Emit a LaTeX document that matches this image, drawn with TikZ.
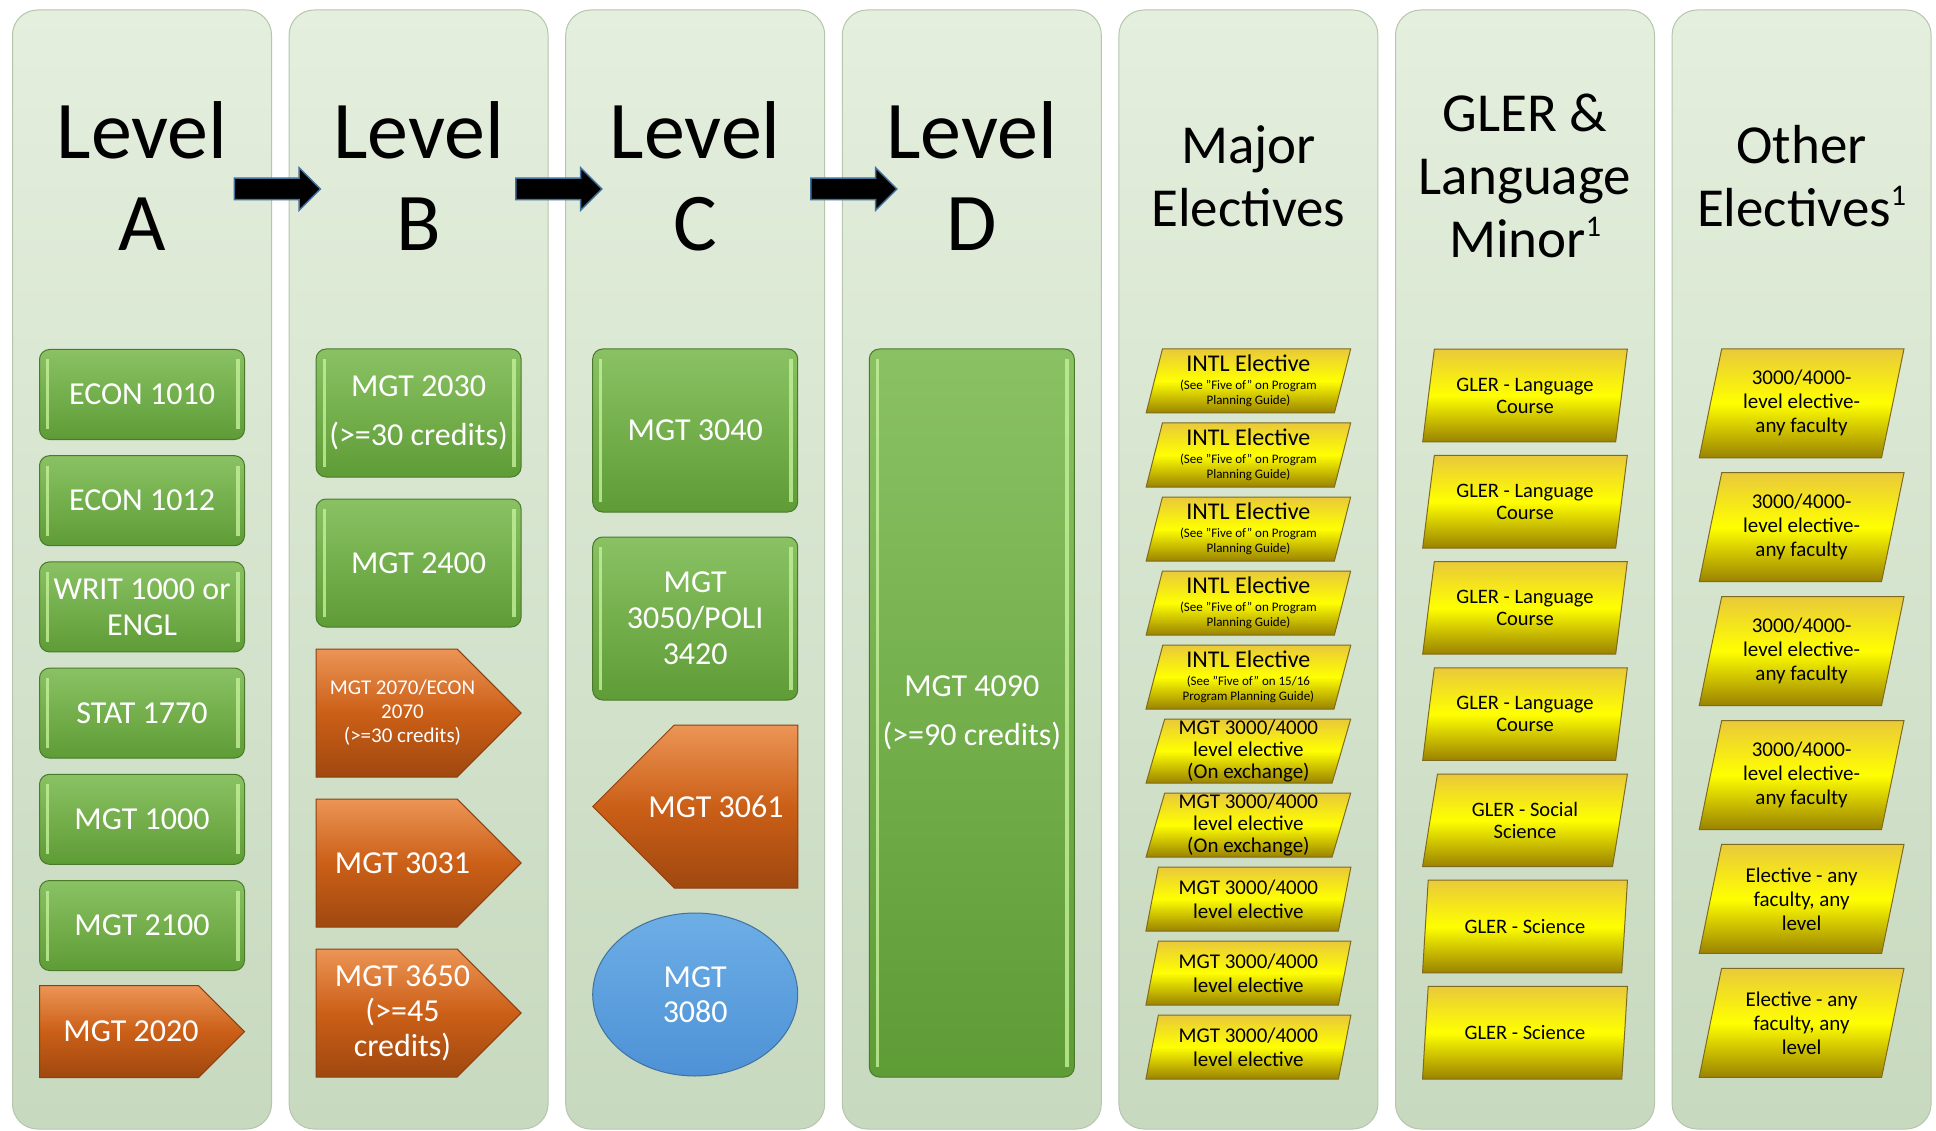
\documentclass[tikz,border=0pt]{standalone}
\usepackage{fontspec}
\setmainfont{Carlito}
\usetikzlibrary{shapes.geometric,shapes.symbols,shapes.arrows}

\definecolor{colTop}{HTML}{E4EFDD}
\definecolor{colBot}{HTML}{C7D9BF}
\definecolor{colEdge}{HTML}{B5C6AD}
\definecolor{grnTop}{HTML}{8AC263}
\definecolor{grnBot}{HTML}{5E9C36}
\definecolor{grnEdge}{HTML}{4A7A2C}
\definecolor{grnHi}{HTML}{C4F09A}
\definecolor{orgTop}{HTML}{EC9556}
\definecolor{orgMid}{HTML}{CB5F17}
\definecolor{orgBot}{HTML}{A04810}
\definecolor{orgEdge}{HTML}{8A4010}
\definecolor{orgHi}{HTML}{F7B27A}
\definecolor{ylwTop}{HTML}{E9C93A}
\definecolor{ylwMid}{HTML}{FFFF00}
\definecolor{ylwBot}{HTML}{9A8200}
\definecolor{ylwEdge}{HTML}{7F6B20}
\definecolor{bluTop}{HTML}{6DAEE6}
\definecolor{bluBot}{HTML}{4E92D6}
\definecolor{bluEdge}{HTML}{41719C}

\newcommand{\supone}{\raisebox{21pt}{\fontsize{30}{30}\selectfont 1}}

\begin{document}
\begin{tikzpicture}[x=1pt,y=-1pt,
  column/.style={rectangle,rounded corners=25pt,top color=colTop,bottom color=colBot,draw=colEdge,line width=1pt,
    minimum width=259pt,minimum height=1119pt,inner sep=0pt},
  level/.style={align=center,font=\fontsize{82}{92}\selectfont},
  head/.style={align=center,font=\fontsize{55}{63}\selectfont},
  lvlarrow/.style={single arrow,fill=black,draw=bluEdge,line width=1.5pt,inner sep=10pt,minimum height=86pt,
    single arrow head extend=10.5pt,single arrow head indent=0pt},
  bevel/.style={path picture={
    \draw[#1,line width=3pt,opacity=.8]
      ([xshift=8pt,yshift=-10pt]path picture bounding box.north west) -- ([xshift=8pt,yshift=10pt]path picture bounding box.south west);
    \draw[#1,line width=4pt,opacity=.8]
      ([xshift=-7pt,yshift=-10pt]path picture bounding box.north east) -- ([xshift=-7pt,yshift=10pt]path picture bounding box.south east);}},
  gbox/.style={rectangle,rounded corners=10pt,top color=grnTop,bottom color=grnBot,draw=grnEdge,line width=1pt,
    bevel=grnHi,minimum width=205pt,inner sep=2pt,text=white,align=center,font=\fontsize{32}{36}\selectfont},
  obox/.style={signal,signal pointer angle=90,top color=orgTop,bottom color=orgBot,middle color=orgMid,
    draw=orgEdge,line width=1pt,minimum width=205pt,inner sep=0pt},
  otext/.style={text=white,align=center,font=\fontsize{32}{35}\selectfont},
  bbox/.style={ellipse,minimum width=205pt,minimum height=163pt,top color=bluTop,bottom color=bluBot,
    draw=bluEdge,line width=1pt,text=white,align=center,font=\fontsize{32}{35}\selectfont},
  ybox/.style={trapezium,trapezium left angle=76,trapezium right angle=104,trapezium stretches=true,
    top color=ylwTop,bottom color=ylwBot,middle color=ylwMid,draw=ylwEdge,line width=1pt,
    minimum width=205pt,inner sep=0pt,align=center,font=\fontsize{21}{22}\selectfont}]

  \useasboundingbox (0,0) rectangle (1936,1131);

  % columns
  \foreach \i in {0,...,6}
    \node[column] (col\i) at ({142+276.6*\i},569.5) {};

  % headings
  \node[level] (hA) at (142,176) {Level\\A};
  \node[level] (hB) at (418.6,176) {Level\\B};
  \node[level] (hC) at (695.2,176) {Level\\C};
  \node[level] (hD) at (971.8,176) {Level\\D};
  \node[head] (hE) at (1248.4,176) {Major\\Electives};
  \node[head] (hF) at (1525,176) {GLER \&\\Language\\Minor\supone};
  \node[head] (hG) at (1801.6,176) {Other\\Electives\supone};

  \node[lvlarrow] (arAB) at (272,189) {};
  \node[lvlarrow] (arBC) at (553.5,189) {};
  \node[lvlarrow] (arCD) at (848.5,189) {};

  % level A
  \foreach \t [count=\k from 0] in {ECON 1010,ECON 1012,{WRIT 1000 or\\ENGL},STAT 1770,MGT 1000,MGT 2100}
    \node[gbox,minimum height=90pt] (a\k) at (142,{394.5+106.2*\k}) {\t};
  \node[obox,minimum height=92pt] (a6) at (119,1031.6) {};
  \node[otext] (a6t) at (131,1031.6) {MGT 2020};

  % level B
  \node[gbox,minimum height=128pt] (b0) at (418.6,413) {MGT 2030\\[13pt](>=30 credits)};
  \node[gbox,minimum height=128pt] (b1) at (418.6,563) {MGT 2400};
  \node[obox,minimum height=128pt] (b2) at (386.6,713) {};
  \node[otext,font=\fontsize{21}{24}\selectfont] (b2t) at (402.5,713) {MGT 2070/ECON\\2070\\(>=30 credits)};
  \node[obox,minimum height=128pt] (b3) at (386.6,863) {};
  \node[otext] (b3t) at (402.5,863) {MGT 3031};
  \node[obox,minimum height=128pt] (b4) at (386.6,1013) {};
  \node[otext] (b4t) at (402.5,1013) {MGT 3650\\(>=45\\credits)};

  % level C
  \node[gbox,minimum height=163pt] (c0) at (695.2,430.5) {MGT 3040};
  \node[gbox,minimum height=163pt] (c1) at (695.2,618.5) {MGT\\3050/POLI\\3420};
  \node[obox,signal to=west,minimum height=163pt] (c2) at (736,806.5) {};
  \node[otext] (c2t) at (716,806.5) {MGT 3061};
  \node[bbox] (c3) at (695.2,994.5) {MGT\\3080};

  % level D
  \node[gbox,minimum height=728pt] (d0) at (971.8,713) {MGT 4090\\[13pt](>=90 credits)};

  % major electives
  \foreach \k in {0,...,3}
    \node[ybox,minimum height=64pt,font=\fontsize{13}{15}\selectfont] (e\k) at (1248.4,{381+74*\k})
      {{\fontsize{24}{24}\selectfont INTL Elective}\\[3pt](See "Five of" on Program\\Planning Guide)};
  \node[ybox,minimum height=64pt,font=\fontsize{13}{15}\selectfont] (e4) at (1248.4,677)
    {{\fontsize{24}{24}\selectfont INTL Elective}\\[3pt](See "Five of" on 15/16\\Program Planning Guide)};
  \foreach \k in {5,6}
    \node[ybox,minimum height=64pt] (e\k) at (1248.4,{381+74*\k}) {MGT 3000/4000\\level elective\\(On exchange)};
  \foreach \k in {7,8,9}
    \node[ybox,minimum height=64pt,font=\fontsize{21}{24}\selectfont] (e\k) at (1248.4,{381+74*\k}) {MGT 3000/4000\\level elective};

  % GLER and language minor
  \foreach \t [count=\k from 0] in {{GLER - Language\\Course},{GLER - Language\\Course},{GLER - Language\\Course},
      {GLER - Language\\Course},{GLER - Social\\Science},GLER - Science,GLER - Science}
    \node[ybox,minimum height=92.6pt,font=\fontsize{20.5}{22}\selectfont] (f\k) at (1525,{395.5+106.2*\k}) {\t};

  % other electives
  \foreach \t [count=\k from 0] in {{3000/4000-\\level elective-\\any faculty},{3000/4000-\\level elective-\\any faculty},
      {3000/4000-\\level elective-\\any faculty},{3000/4000-\\level elective-\\any faculty},
      {Elective - any\\faculty, any\\level},{Elective - any\\faculty, any\\level}}
    \node[ybox,minimum height=109pt,font=\fontsize{21}{24}\selectfont] (g\k) at (1801.6,{403.3+123.9*\k}) {\t};
\end{tikzpicture}
\end{document}
